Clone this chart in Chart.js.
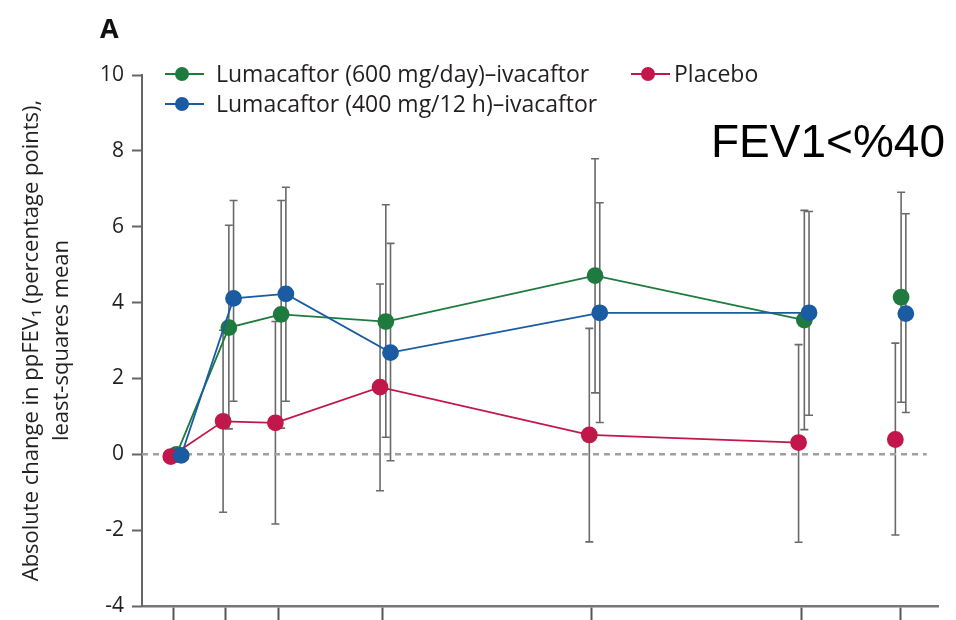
<!DOCTYPE html>
<html>
<head>
<meta charset="utf-8">
<script src="https://cdn.jsdelivr.net/npm/chart.js@4.4.1/dist/chart.umd.min.js"></script>
<style>
    html, body { margin: 0; padding: 0; background: #fff; }
    #contenedor { width: 956px; height: 620px; }
</style>
</head>
<body>
<div id="contenedor"><canvas id="graficoFev" width="956" height="620"></canvas></div>
<script>
// Semanas de visita (la última es el promedio de semanas 16 y 24)
const semanas = [0, 2, 4, 8, 16, 24, 27.7];
const ticksSemanas = [0, 2, 4, 8, 16, 24, 27.8];
const ticksY = [-4, -2, 0, 2, 4, 6, 8, 10];

// Cambio absoluto en ppFEV1, media por mínimos cuadrados
const luma600 = [0, 3.34, 3.69, 3.50, 4.71, 3.54, 4.14];
const luma400 = [-0.03, 4.11, 4.23, 2.68, 3.73, 3.73, 3.71];
const placebo = [-0.06, 0.87, 0.83, 1.77, 0.51, 0.31, 0.39];

// Intervalos de confianza 95 %
const luma600Inf = [null, 0.67, 0.69, 0.45, 1.62, 0.65, 1.37];
const luma600Sup = [null, 6.04, 6.69, 6.58, 7.79, 6.43, 6.91];
const luma400Inf = [null, 1.40, 1.40, -0.17, 0.84, 1.03, 1.10];
const luma400Sup = [null, 6.69, 7.04, 5.56, 6.63, 6.40, 6.34];
const placeboInf = [null, -1.53, -1.84, -0.96, -2.31, -2.32, -2.13];
const placeboSup = [null, 3.27, 3.50, 4.49, 3.32, 2.89, 2.93];

const verde = '#1f7a3f';
const azul = '#1a5ba2';
const rojo = '#c2174a';
const fuente = "'Open Sans', sans-serif";
const textoColor = '#231f20';

// desplazamiento horizontal de cada grupo para que no se tapen
const serie = (valores, desplaz) => valores.map((v, i) => ({ x: semanas[i] + desplaz, y: v }));
const sinUltimoTramo = color => ({ borderColor: c => c.p1DataIndex === semanas.length - 1 ? 'rgba(0,0,0,0)' : color });

const barrasError = {
    id: 'barrasError',
    beforeDatasetsDraw(chart) {
        const { ctx, scales: { x, y } } = chart;
        ctx.save();
        ctx.strokeStyle = '#6a6a6a';
        ctx.lineWidth = 1.6;
        chart.data.datasets.forEach(ds => {
            if (!ds.inferior) return;
            ds.data.forEach((p, i) => {
                if (ds.inferior[i] == null) return;
                const px = x.getPixelForValue(p.x);
                const y0 = y.getPixelForValue(ds.inferior[i]);
                const y1 = y.getPixelForValue(ds.superior[i]);
                ctx.beginPath();
                ctx.moveTo(px, y0); ctx.lineTo(px, y1);
                ctx.moveTo(px - 4, y0); ctx.lineTo(px + 4, y0);
                ctx.moveTo(px - 4, y1); ctx.lineTo(px + 4, y1);
                ctx.stroke();
            });
        });
        ctx.restore();
    }
};

const leyendaYTextos = {
    id: 'leyendaYTextos',
    afterDraw(chart) {
        const ctx = chart.ctx;
        ctx.save();
        const item = (color, x, y, texto, separacion) => {
            ctx.strokeStyle = color;
            ctx.lineWidth = 2;
            ctx.beginPath();
            ctx.moveTo(x - 17, y); ctx.lineTo(x + 22, y);
            ctx.stroke();
            ctx.fillStyle = color;
            ctx.beginPath();
            ctx.arc(x, y, 7, 0, Math.PI * 2);
            ctx.fill();
            ctx.fillStyle = textoColor;
            ctx.font = '23px ' + fuente;
            ctx.textBaseline = 'middle';
            ctx.textAlign = 'left';
            ctx.fillText(texto, x + separacion, y + 1);
        };
        item(verde, 182, 74, 'Lumacaftor (600 mg/day)–ivacaftor', 34);
        item(azul, 182, 104, 'Lumacaftor (400 mg/12 h)–ivacaftor', 34);
        item(rojo, 648, 74, 'Placebo', 26);

        ctx.fillStyle = '#111';
        ctx.font = 'bold 27px ' + fuente;
        ctx.textBaseline = 'alphabetic';
        ctx.fillText('A', 100, 38);

        ctx.fillStyle = '#000';
        ctx.font = "46px 'Liberation Sans', Arial, sans-serif";
        ctx.fillText('FEV1<%40', 711, 157);
        ctx.restore();
    }
};

new Chart(document.getElementById('graficoFev'), {
    type: 'line',
    data: {
        datasets: [
            {
                label: 'Lumacaftor (400 mg/12 h)–ivacaftor',
                data: serie(luma400, 0.3),
                inferior: luma400Inf, superior: luma400Sup,
                borderColor: azul, backgroundColor: azul,
                pointBackgroundColor: azul, pointBorderColor: azul,
                borderWidth: 1.8, pointRadius: 7.5, tension: 0,
                segment: sinUltimoTramo(azul),
                order: 0
            },
            {
                label: 'Placebo',
                data: serie(placebo, -0.1),
                inferior: placeboInf, superior: placeboSup,
                borderColor: rojo, backgroundColor: rojo,
                pointBackgroundColor: rojo, pointBorderColor: rojo,
                borderWidth: 1.8, pointRadius: 7.5, tension: 0,
                segment: sinUltimoTramo(rojo),
                order: 1
            },
            {
                label: 'Lumacaftor (600 mg/day)–ivacaftor',
                data: serie(luma600, 0.12),
                inferior: luma600Inf, superior: luma600Sup,
                borderColor: verde, backgroundColor: verde,
                pointBackgroundColor: verde, pointBorderColor: verde,
                borderWidth: 1.8, pointRadius: 7.5, tension: 0,
                segment: sinUltimoTramo(verde),
                order: 2
            },
            {
                label: 'cero',
                data: [{ x: -1.2, y: 0 }, { x: 28.8, y: 0 }],
                borderColor: '#a0a0a0', borderWidth: 2.5,
                borderDash: [6, 5], pointRadius: 0,
                order: 3
            }
        ]
    },
    options: {
        responsive: false,
        devicePixelRatio: 1,
        animation: false,
        layout: { padding: { top: 75, right: 18, left: 0, bottom: 0 } },
        plugins: {
            legend: { display: false },
            tooltip: { enabled: false }
        },
        scales: {
            x: {
                type: 'linear',
                min: -1.2,
                max: 29.23,
                afterBuildTicks: s => { s.ticks = ticksSemanas.map(v => ({ value: v })); },
                afterFit: s => { s.height = 14; s.paddingLeft = 0; s.paddingRight = 0; },
                ticks: { display: false },
                grid: { drawOnChartArea: false, drawTicks: true, tickLength: 14, tickColor: '#555', tickWidth: 2 },
                border: { color: '#777', width: 2.5 }
            },
            y: {
                min: -4,
                max: 10,
                afterBuildTicks: s => { s.ticks = ticksY.map(v => ({ value: v })); },
                afterFit: s => { s.width = 142; s.paddingTop = 0; s.paddingBottom = 0; },
                ticks: { color: textoColor, font: { family: fuente, size: 21 }, padding: 8 },
                grid: { drawOnChartArea: false, drawTicks: true, tickLength: 10, tickColor: '#666', tickWidth: 2 },
                border: { color: '#666', width: 2 },
                title: {
                    display: true,
                    text: ['Absolute change in ppFEV₁ (percentage points),', 'least-squares mean'],
                    color: textoColor,
                    font: { family: fuente, size: 22, lineHeight: 30 / 22 },
                    padding: { top: 17, bottom: 0 }
                }
            }
        }
    },
    plugins: [barrasError, leyendaYTextos]
});
</script>
</body>
</html>
